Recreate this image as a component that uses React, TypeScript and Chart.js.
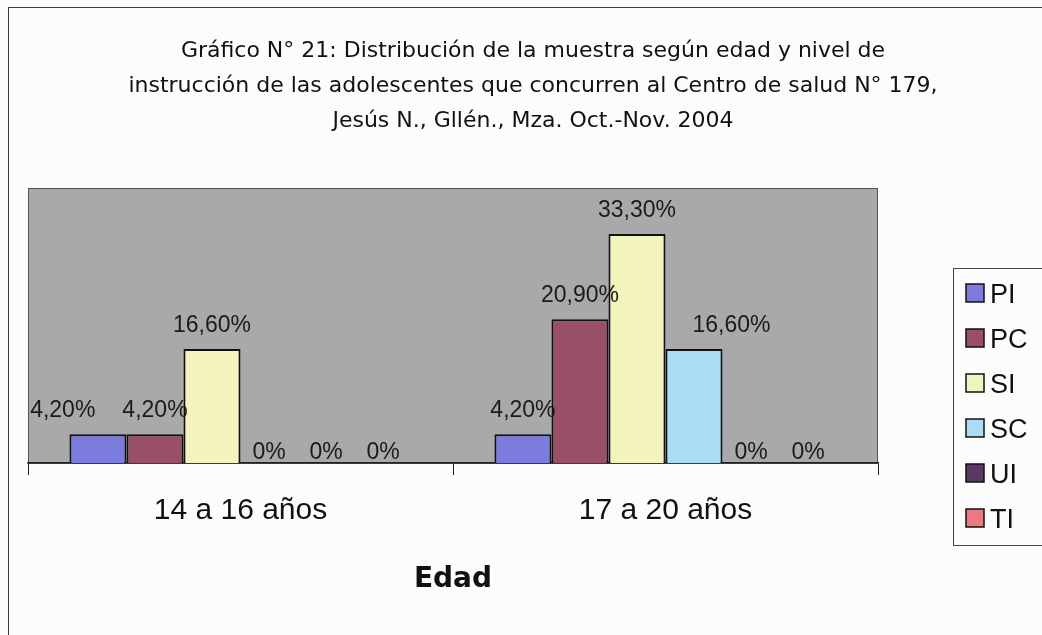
import React, { useEffect, useRef } from "react";
import { Chart, registerables } from "chart.js";

Chart.register(...registerables);

const categories = ["14 a 16 años", "17 a 20 años"];
const seriesNames = ["PI", "PC", "SI", "SC", "UI", "TI"];
const PI = [4.2, 4.2];
const PC = [4.2, 20.9];
const SI = [16.6, 33.3];
const SC = [0, 16.6];
const UI = [0, 0];
const TI = [0, 0];
const seriesValues = [PI, PC, SI, SC, UI, TI];
const seriesColors = ["#7c7cde", "#9a4f68", "#f3f3bd", "#aadcf3", "#5c3868", "#ec7880"];
const titleLines = [
  "Gráfico N° 21: Distribución de la muestra según edad y nivel de",
  "instrucción de las adolescentes que concurren al Centro de salud N° 179,",
  "Jesús N., Gllén., Mza. Oct.-Nov. 2004",
];
const axisTitle = "Edad";
const yMin = 0;
const yMax = 40;

const fmt = (v: number) => (v === 0 ? "0%" : v.toFixed(2).replace(".", ",") + "%");

const decor = {
  id: "decor",
  beforeDraw(chart: any) {
    const { ctx, chartArea: a, width, height } = chart;
    ctx.save();
    ctx.fillStyle = "#fcfcfc";
    ctx.fillRect(0, 0, width, height);
    ctx.strokeStyle = "#3a3a3a";
    ctx.lineWidth = 1;
    ctx.strokeRect(8.5, 7.5, width + 20, height + 20);
    ctx.fillStyle = "#a9a9ac";
    ctx.fillRect(a.left, a.top, a.right - a.left, a.bottom - a.top);
    ctx.strokeStyle = "#555";
    ctx.strokeRect(a.left + 0.5, a.top + 0.5, a.right - a.left - 1, a.bottom - a.top);
    ctx.restore();
  },
  afterDatasetsDraw(chart: any) {
    const { ctx } = chart;
    ctx.save();
    ctx.font = '23px "Liberation Sans", Arial, sans-serif';
    ctx.fillStyle = "#1a1a1a";
    ctx.textAlign = "center";
    ctx.textBaseline = "alphabetic";
    const n = chart.data.datasets.length;
    const gap = 27;
    const tolLeftBar = 5;
    const tolRightBar = 12;
    const textH = 17;
    chart.data.labels.forEach((_: any, j: number) => {
      const items: any[] = [];
      for (let i = 0; i < n; i++) {
        const ds = chart.data.datasets[i];
        const bar: any = chart.getDatasetMeta(i).data[j];
        const v = ds.data[j];
        const text = fmt(v);
        const w = ctx.measureText(text).width;
        const y = v === 0 ? bar.y - 4 : bar.y - 17;
        items.push({ text, w, x: bar.x, y, bar });
      }
      items.forEach((it, i) => {
        for (let k = 0; k < n; k++) {
          if (k === i) continue;
          const b = items[k].bar;
          const bl = b.x - b.width / 2, br = b.x + b.width / 2;
          const l = it.x - it.w / 2, r = it.x + it.w / 2;
          if (b.y < it.y && it.y - textH < b.base) {
            if (k < i && br - l > tolLeftBar) it.x = br + gap + it.w / 2;
            if (k > i && r - bl > tolRightBar) it.x = bl - gap - it.w / 2;
          }
        }
        const nx = items[i + 1];
        if (nx && Math.abs(nx.y - it.y) < textH) {
          const r = it.x + it.w / 2, nl = nx.x - nx.w / 2;
          if (r > nl) it.x = nl - gap - it.w / 2;
        }
      });
      items.forEach((it) => ctx.fillText(it.text, it.x, it.y));
    });
    ctx.restore();
  },
  afterDraw(chart: any) {
    const { ctx, chartArea: a } = chart;
    ctx.save();
    ctx.fillStyle = "#111";
    ctx.textAlign = "center";
    ctx.font = '22px "DejaVu Sans", sans-serif';
    const tb = [57, 92, 127];
    titleLines.forEach((t, i) => ctx.fillText(t, 533, tb[i]));
    ctx.font = 'bold 28px "DejaVu Sans", sans-serif';
    ctx.fillText(axisTitle, (a.left + a.right) / 2, 587);
    const lx = 953, ly = 268, lh = 277;
    ctx.fillStyle = "#fcfcfc";
    ctx.fillRect(lx, ly, 120, lh);
    ctx.strokeStyle = "#444";
    ctx.lineWidth = 1;
    ctx.strokeRect(lx + 0.5, ly + 0.5, 120, lh);
    ctx.textAlign = "left";
    ctx.font = '27px "Liberation Sans", Arial, sans-serif';
    chart.data.datasets.forEach((ds: any, i: number) => {
      const cy = 293 + i * 45;
      ctx.fillStyle = ds.backgroundColor;
      ctx.fillRect(966, cy - 9, 18, 18);
      ctx.strokeStyle = "#111";
      ctx.lineWidth = 1.5;
      ctx.strokeRect(966, cy - 9, 18, 18);
      ctx.fillStyle = "#111";
      ctx.fillText(ds.label, 990, cy + 10);
    });
    ctx.restore();
  },
};

export default function App() {
  const ref = useRef<HTMLCanvasElement>(null);
  useEffect(() => {
    if (!ref.current) return;
    const chart = new Chart(ref.current, {
      type: "bar",
      data: {
        labels: categories,
        datasets: seriesNames.map((name, i) => ({
          label: name,
          data: seriesValues[i],
          backgroundColor: seriesColors[i],
          borderColor: "#111",
          borderWidth: 2,
          categoryPercentage: 0.805,
          barPercentage: 1,
        })),
      },
      options: {
        responsive: false,
        animation: false,
        layout: { padding: { left: 28, top: 188, right: 164, bottom: 0 } },
        plugins: { legend: { display: false }, title: { display: false }, tooltip: { enabled: false } },
        scales: {
          x: {
            grid: { display: true, drawOnChartArea: false, drawTicks: true, tickLength: 12, color: "#222", lineWidth: 1 },
            border: { display: true, color: "#222", width: 1.5 },
            ticks: { color: "#111", font: { family: '"Liberation Sans", Arial, sans-serif', size: 30 }, padding: 18 },
            afterFit: (scale: any) => {
              scale.height = 172;
            },
          },
          y: { display: false, min: yMin, max: yMax },
        },
      },
      plugins: [decor],
    });
    return () => chart.destroy();
  }, []);
  return (
    <div style={{ position: "fixed", left: 0, top: 0, width: 1042, height: 635 }}>
      <canvas ref={ref} width={1042} height={635} style={{ display: "block" }} />
    </div>
  );
}
